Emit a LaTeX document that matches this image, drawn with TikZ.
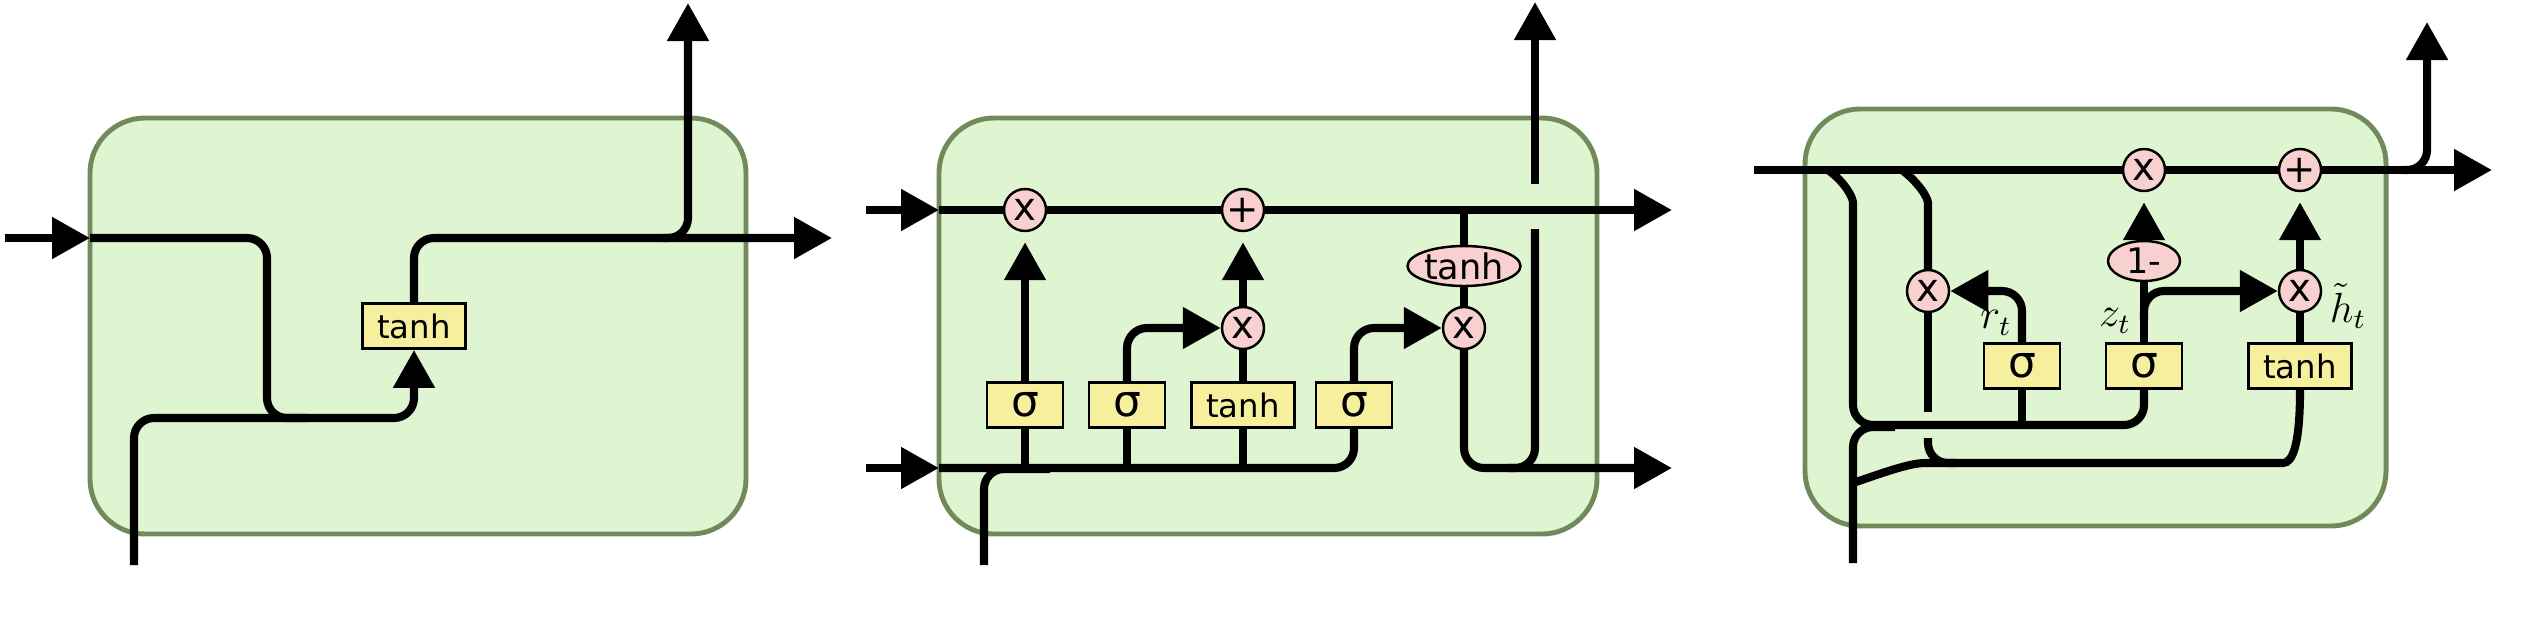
\documentclass[tikz,border=0pt]{standalone}
\usepackage{fontspec}
\usetikzlibrary{arrows.meta}
\usetikzlibrary{positioning}
\usetikzlibrary{shapes.geometric}
\newfontfamily\gatefont{DejaVu Sans}
\definecolor{cellfill}{RGB}{223,245,210}
\definecolor{celledge}{RGB}{112,138,90}
\definecolor{gatefill}{RGB}{245,239,158}
\definecolor{opfill}{RGB}{248,208,208}
\tikzset{
    cell/.style={draw=celledge, fill=cellfill, line width=1.4pt, rounded corners=0.55cm},
    flow/.style={line width=2.3pt, rounded corners=2mm},
    gatebox/.style={rectangle, draw, fill=gatefill, line width=0.8pt, minimum height=0.45cm, minimum width=0.76cm, inner sep=0pt, font=\gatefont\fontsize{12.5}{13}\selectfont},
    tanhbox/.style={gatebox, minimum width=1.03cm, font=\gatefont\fontsize{9.2}{10}\selectfont},
    opcircle/.style={circle, draw, fill=opfill, line width=0.7pt, minimum size=0.42cm, inner sep=0pt, font=\gatefont\fontsize{11}{12}\selectfont},
    opoval/.style={ellipse, draw, fill=opfill, line width=0.7pt, minimum height=0.40cm, inner sep=0pt, font=\gatefont\fontsize{10}{12}\selectfont},
    lbl/.style={inner sep=1pt, font=\fontsize{12}{14}\selectfont}
}

\begin{document}
\begin{tikzpicture}[>={Triangle[length=3.8mm,width=4mm]}]
    \useasboundingbox (0, 0) rectangle (25.41, 6.28);

    \draw[cell] (0.90, 0.94) rectangle (7.46, 5.10);
    \draw (4.14, 3.02) node[tanhbox] (t1) {tanh};
    \coordinate (h1in) at (0.05, 3.90);
    \coordinate (h1w) at (0.90, 3.90);
    \coordinate (x1in) at (1.34, 0.63);
    \coordinate (h1out) at (8.32, 3.90);
    \coordinate (h1up) at (6.88, 6.25);
    \draw[flow,->] (h1in) -- (h1w);
    \draw[flow] (h1w) -- (2.67, 3.90) -- (2.67, 2.10) -- (3.07, 2.10);
    \draw[flow,->] (x1in) |- (4.14, 2.10) -- (t1.south);
    \draw[flow,->] (t1.north) |- (h1out);
    \draw[flow,->] (6.63, 3.90) -| (h1up);

    \draw[cell] (9.39, 0.94) rectangle (15.97, 5.10);
    \draw (10.25, 4.18) node[opcircle] (m1) {x};
    \draw (12.43, 4.18) node[opcircle] (a1) {+};
    \draw (12.43, 3.00) node[opcircle] (m2) {x};
    \draw (14.64, 3.00) node[opcircle] (m3) {x};
    \draw (14.64, 3.62) node[opoval, minimum width=1.02cm] (th) {tanh};
    \draw (12.43, 2.23) node[tanhbox] (g3) {tanh};
    \foreach \gx/\gname in {10.25/g1, 11.27/g2, 13.54/g4}{
        \draw (\gx, 2.23) node[gatebox] (\gname) {σ};
    }
    \coordinate (c2in) at (8.66, 4.18);
    \coordinate (c2w) at (9.39, 4.18);
    \coordinate (c2out) at (16.72, 4.18);
    \coordinate (h2in) at (8.66, 1.60);
    \coordinate (h2w) at (9.39, 1.60);
    \coordinate (h2out) at (16.72, 1.60);
    \coordinate (x2in) at (9.84, 0.63);
    \coordinate (h2up) at (15.35, 6.26);
    \draw[flow,->] (c2in) -- (c2w);
    \draw[flow] (c2w) -- (m1);
    \draw[flow] (m1) -- (a1);
    \draw[flow,->] (a1) -- (c2out);
    \draw[flow,->] (h2in) -- (h2w);
    \draw[flow] (h2w) -| (g4.south);
    \draw[flow] (x2in) |- (10.50, 1.59);
    \foreach \gname in {g1, g2, g3}{
        \draw[flow] (\gname.south) -- (\gname.south |- h2w);
    }
    \draw[flow,->,shorten >=1mm] (g1) -- (m1);
    \draw[flow] (g3) -- (m2);
    \draw[flow,->,shorten >=1mm] (m2) -- (a1);
    \draw[flow,->] (g2.north) |- (m2.west);
    \draw[flow,->] (g4.north) |- (m3.west);
    \draw[flow] (m3 |- c2w) -- (th);
    \draw[flow] (th) -- (m3);
    \draw[flow,->] (m3.south) |- (h2out);
    \draw[flow] (15.08, 1.60) -| (15.35, 3.99);
    \draw[flow,->] (15.35, 4.44) -- (h2up);

    \draw[cell] (18.05, 1.02) rectangle (23.86, 5.19);
    \draw (21.44, 4.58) node[opcircle] (m4) {x};
    \draw (23.00, 4.58) node[opcircle] (a2) {+};
    \draw (21.44, 3.67) node[opoval, minimum width=0.72cm] (om) {1-};
    \draw (19.28, 3.37) node[opcircle] (m5) {x};
    \draw (23.00, 3.37) node[opcircle] (m6) {x};
    \draw (20.22, 2.62) node[gatebox] (g5) {σ};
    \draw (21.44, 2.62) node[gatebox] (g6) {σ};
    \draw (23.00, 2.62) node[tanhbox] (g7) {tanh};
    \draw (19.96, 3.05) node[lbl] (rt) {$r_t$};
    \draw (21.15, 3.07) node[lbl] (zt) {$z_t$};
    \draw (23.48, 3.22) node[lbl] (ht) {$\tilde{h}_t$};
    \coordinate (h3in) at (17.54, 4.58);
    \coordinate (h3out) at (24.92, 4.58);
    \coordinate (h3up) at (24.27, 6.06);
    \coordinate (x3in) at (18.53, 0.65);
    \draw[flow] (h3in) -- (m4);
    \draw[flow] (m4) -- (a2);
    \draw[flow,->] (a2) -- (h3out);
    \draw[flow,->] (24.03, 4.58) -| (h3up);
    \draw[flow] (18.28, 4.58) .. controls (18.46, 4.45) and (18.53, 4.30) .. (18.53, 4.05) -- (18.53, 2.03) -| (g6.south);
    \draw[flow] (g5.south) -- (20.22, 2.03);
    \draw[flow] (x3in) |- (18.95, 2.01);
    \draw[flow] (19.02, 4.58) .. controls (19.19, 4.45) and (19.28, 4.30) .. (19.28, 4.05) -- (m5);
    \draw[flow] (m5) -- (19.28, 2.16);
    \draw[flow] (19.28, 1.90) |- (19.57, 1.65);
    \draw[flow] (18.53, 1.45) .. controls (18.85, 1.56) and (19.10, 1.65) .. (19.45, 1.65) -- (22.63, 1.65) .. controls (22.93, 1.65) and (23.00, 1.85) .. (g7.south);
    \draw[flow,->] (g5.north) |- (m5.east);
    \draw[flow] (g6) -- (om);
    \draw[flow,->,shorten >=1mm] (om) -- (m4);
    \draw[flow,->] (21.44, 3.08) |- (m6.west);
    \draw[flow] (g7) -- (m6);
    \draw[flow,->,shorten >=1mm] (m6) -- (a2);
\end{tikzpicture}
\end{document}
